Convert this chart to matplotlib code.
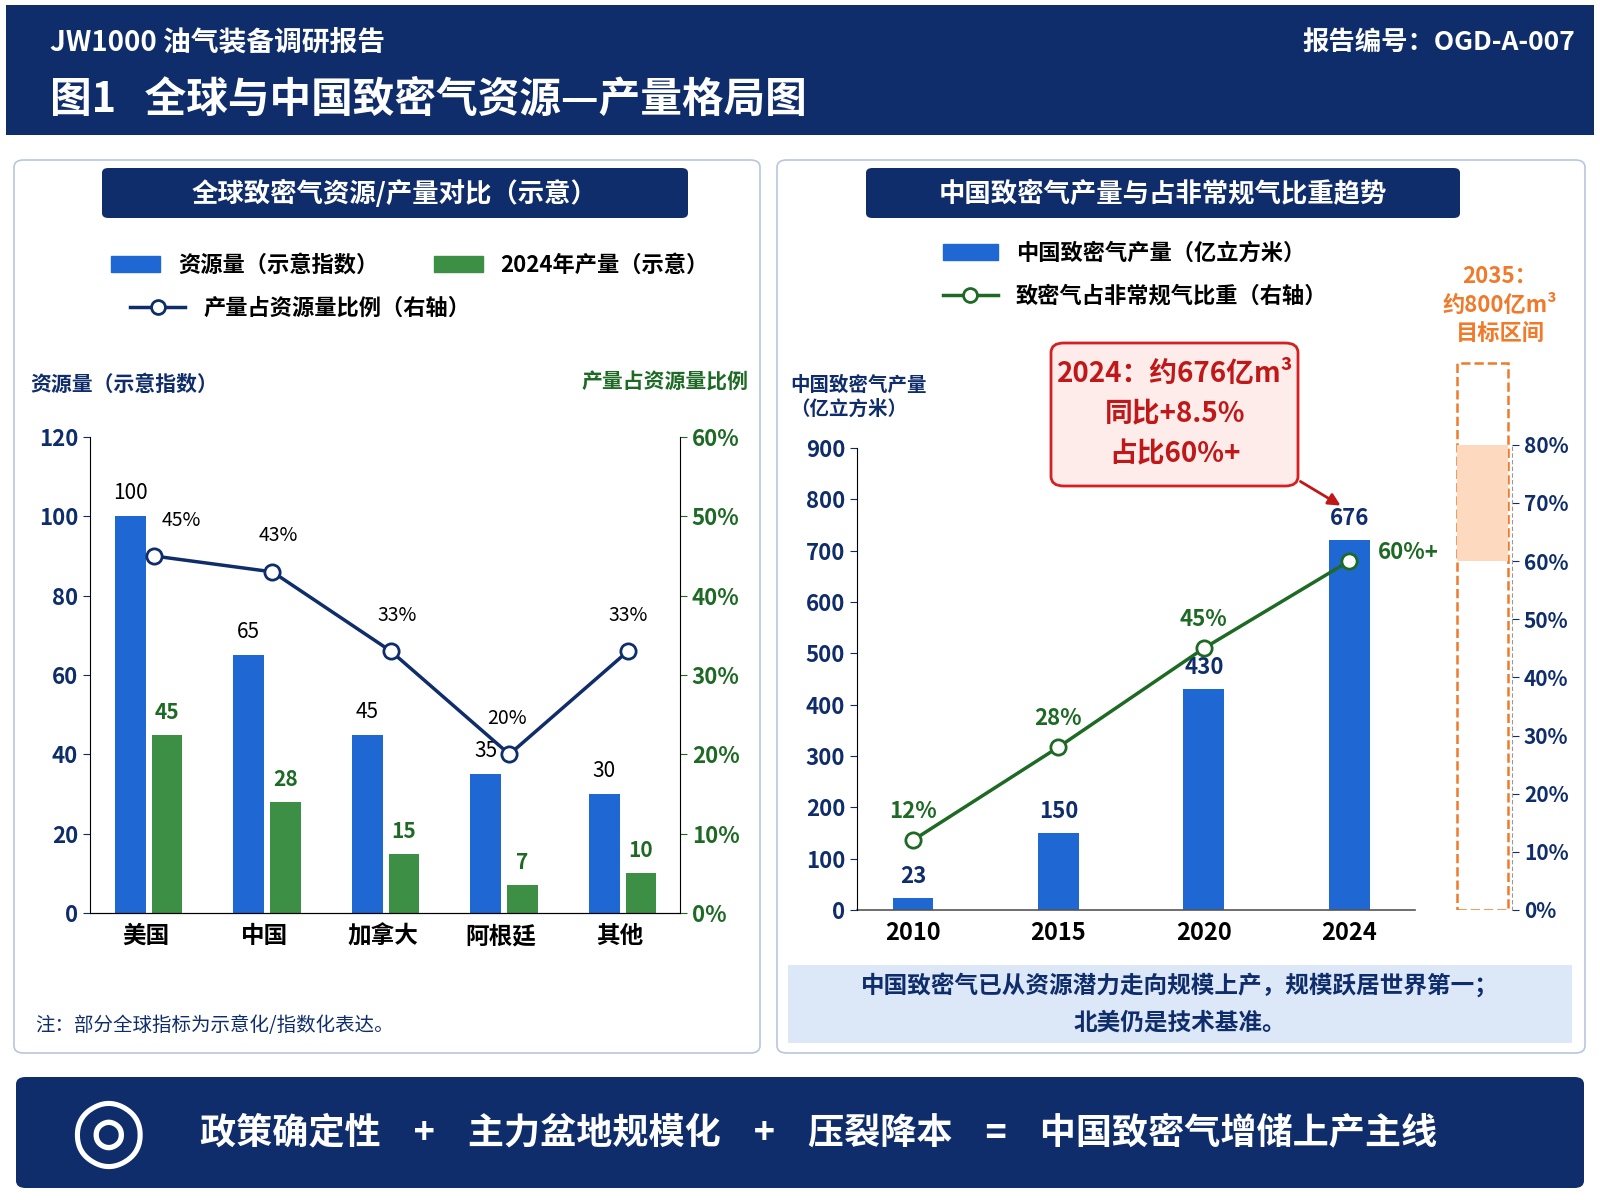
import matplotlib.pyplot as plt
from matplotlib.patches import FancyBboxPatch, Rectangle
from matplotlib.lines import Line2D

plt.rcParams['font.family'] = ['Noto Sans CJK SC', 'DejaVu Sans']
plt.rcParams['font.weight'] = 'bold'

NAVY = '#0f2d6b'
BLUE = '#1f67d2'
GREEN = '#3c8f45'
DKGREEN = '#1e6a25'
ORANGE = '#f07a2a'

# left chart data
countries = ['美国', '中国', '加拿大', '阿根廷', '其他']
resource = [100, 65, 45, 35, 30]
output_2024 = [45, 28, 15, 7, 10]
ratio = [45, 43, 33, 20, 33]

# right chart data
years = ['2010', '2015', '2020', '2024']
cn_output = [23, 150, 430, 720]
cn_output_labels = ['23', '150', '430', '676']
cn_share = [12, 28, 45, 60]
cn_share_labels = ['12%', '28%', '45%', '60%+']

W, H = 1600, 1200
fig = plt.figure(figsize=(16, 12), dpi=100)
fig.patch.set_facecolor('white')


def fx(px):
    return px / W


def fy(py):
    return 1 - py / H


def box(x0, y0, x1, y1, **kw):
    fig.patches.append(FancyBboxPatch((fx(x0), fy(y1)), fx(x1 - x0), (y1 - y0) / H,
                                      transform=fig.transFigure, zorder=-5, **kw))


# header
box(6, 5, 1594, 135, boxstyle='square,pad=0', fc=NAVY, ec='none')
fig.text(fx(50), fy(42), 'JW1000 油气装备调研报告', color='white', fontsize=20, va='center')
fig.text(fx(1575), fy(42), '报告编号：OGD-A-007', color='white', fontsize=19, va='center', ha='right')
fig.text(fx(50), fy(100), '图1   全球与中国致密气资源—产量格局图', color='white', fontsize=30, va='center')

# panels
box(14, 160, 760, 1053, boxstyle='round,pad=0,rounding_size=0.006', fc='white', ec='#b9c6dc', lw=1.2)
box(777, 160, 1585, 1053, boxstyle='round,pad=0,rounding_size=0.006', fc='white', ec='#b9c6dc', lw=1.2)
box(102, 168, 688, 218, boxstyle='round,pad=0,rounding_size=0.004', fc=NAVY, ec='none')
fig.text(fx(395), fy(194), '全球致密气资源/产量对比（示意）', color='white', fontsize=19, ha='center', va='center')
box(866, 168, 1460, 218, boxstyle='round,pad=0,rounding_size=0.004', fc=NAVY, ec='none')
fig.text(fx(1163), fy(194), '中国致密气产量与占非常规气比重趋势', color='white', fontsize=19, ha='center', va='center')

# bottom banner
box(16, 1077, 1584, 1188, boxstyle='round,pad=0,rounding_size=0.006', fc=NAVY, ec='none')
fig.text(fx(200), fy(1133), '政策确定性    +    主力盆地规模化    +    压裂降本    =    中国致密气增储上产主线',
         color='white', fontsize=26, ha='left', va='center')
fig.text(fx(108), fy(1133), '◎', color='white', fontsize=64, ha='center', va='center', family='DejaVu Sans')

# ---------- left chart ----------
ax = fig.add_axes([fx(90), fy(913), fx(680 - 90), (913 - 437) / H])
ax.patch.set_alpha(0)
x = list(range(len(countries)))
ax.bar([i - 0.13 for i in x], resource, width=0.26, color=BLUE)
ax.bar([i + 0.18 for i in x], output_2024, width=0.26, color=GREEN)
for i in x:
    ax.text(i - 0.13, resource[i] + 3, str(resource[i]), ha='center', va='bottom', fontsize=15, fontweight='normal')
    ax.text(i + 0.18, output_2024[i] + 3, str(output_2024[i]), ha='center', va='bottom', fontsize=15, color=DKGREEN)
ax.set_xlim(-0.47, 4.51)
ax.set_ylim(0, 120)
ax.set_yticks(range(0, 121, 20))
ax.set_xticks(x)
ax.set_xticklabels(countries, fontsize=17)
ax.tick_params(axis='y', labelsize=16, colors=NAVY, length=5)
ax.tick_params(axis='x', length=0, pad=8)
for s in ['top', 'right']:
    ax.spines[s].set_visible(False)
ax2 = ax.twinx()
ax2.plot([i + 0.07 for i in x], ratio, color=NAVY, lw=2.5, marker='o', ms=11, mfc='white', mew=2)
label_dx = [0.3, 0.12, 0.12, 0.05, 0.07]
for i in x:
    ax2.text(i + label_dx[i], ratio[i] + 3.2, f'{ratio[i]}%', ha='center', va='bottom', fontsize=14, fontweight='normal')
ax2.set_ylim(0, 60)
ax2.set_yticks(range(0, 61, 10))
ax2.set_yticklabels([f'{v}%' for v in range(0, 61, 10)])
ax2.tick_params(axis='y', labelsize=16, colors=DKGREEN, length=5)
for s in ['top', 'left']:
    ax2.spines[s].set_visible(False)
fig.text(fx(30), fy(384), '资源量（示意指数）', color=NAVY, fontsize=15, va='center')
fig.text(fx(748), fy(382), '产量占资源量比例', color=DKGREEN, fontsize=15, va='center', ha='right')
fig.text(fx(35), fy(1025), '注：部分全球指标为示意化/指数化表达。', color=NAVY, fontsize=14, fontweight='normal', va='center')
fig.legend([Rectangle((0, 0), 1, 1, color=BLUE), Rectangle((0, 0), 1, 1, color=GREEN)],
           ['资源量（示意指数）', '2024年产量（示意）'], loc='center', ncol=2,
           bbox_to_anchor=(fx(410), fy(265)), frameon=False, fontsize=16, handlelength=2.2, columnspacing=2.5)
fig.legend([Line2D([], [], color=NAVY, lw=2.5, marker='o', mfc='white', ms=10, mew=2)],
           ['产量占资源量比例（右轴）'], loc='center', bbox_to_anchor=(fx(300), fy(308)),
           frameon=False, fontsize=16, handlelength=2.5)

# ---------- right chart ----------
bx = fig.add_axes([fx(857), fy(910), fx(1512 - 857), (910 - 350) / H])
bx.patch.set_alpha(0)
xi = list(range(len(years)))
bx.bar(xi, cn_output, width=0.28, color=BLUE)
for i in xi:
    bx.text(i, cn_output[i] + 20, cn_output_labels[i], ha='center', va='bottom', fontsize=16, color=NAVY)
bx.set_xlim(-0.385, 4.12)
bx.set_ylim(0, 1091)
bx.set_yticks(range(0, 901, 100))
bx.set_xticks(xi)
bx.set_xticklabels(years, fontsize=17)
bx.tick_params(axis='y', labelsize=16, colors=NAVY, length=5)
bx.tick_params(axis='x', length=0, pad=8)
for s in ['top', 'right', 'bottom']:
    bx.spines[s].set_visible(False)
bx.spines['left'].set_bounds(0, 900)
bx.plot([-0.385, 3.45], [0, 0], color='#555555', lw=1.2, clip_on=False)
bx2 = bx.twinx()
bx2.plot(xi, cn_share, color=DKGREEN, lw=2.5, marker='o', ms=11, mfc='white', mew=2)
for i in xi[:-1]:
    bx2.text(i, cn_share[i] + 3, cn_share_labels[i], ha='center', va='bottom', fontsize=16, color=DKGREEN)
bx2.text(3.2, cn_share[3] + 1.5, cn_share_labels[3], ha='left', va='center', fontsize=16, color=DKGREEN)
bx2.set_ylim(0, 96.3)
bx2.set_yticks(range(0, 81, 10))
bx2.set_yticklabels([f'{v}%' for v in range(0, 81, 10)])
bx2.tick_params(axis='y', labelsize=15, colors=NAVY, length=5)
for s in ['top', 'left', 'bottom']:
    bx2.spines[s].set_visible(False)
bx2.spines['right'].set_color('#999999')
bx2.spines['right'].set_linestyle((0, (3, 3)))
bx2.spines['right'].set_bounds(0, 80)
bx2.add_patch(Rectangle((3.745, 0), 0.345, 94, fill=False, ec=ORANGE, ls='--', lw=1.8))
bx2.add_patch(Rectangle((3.745, 60), 0.345, 20, fc='#fcd9bf', ec='none'))
fig.text(fx(1500), fy(305), '2035：\n约800亿m³\n目标区间', color=ORANGE, fontsize=16, ha='center', va='center', linespacing=1.3)
fig.text(fx(790), fy(397), '中国致密气产量\n（亿立方米）', color=NAVY, fontsize=14, va='center', linespacing=1.3)
box(1051, 343, 1298, 486, boxstyle='round,pad=0,rounding_size=0.008', fc='#fdecea', ec='#d42020', lw=2)
fig.text(fx(1175), fy(414), '2024：约676亿m³\n同比+8.5%\n占比60%+', color='#c01818', fontsize=20, ha='center', va='center', linespacing=1.55)
bx.annotate('', xy=(fx(1343), fy(507)), xycoords='figure fraction',
            xytext=(fx(1298), fy(480)), textcoords='figure fraction',
            arrowprops=dict(arrowstyle='-|>', color='#c01818', lw=2, mutation_scale=18))
fig.legend([Rectangle((0, 0), 1, 1, color=BLUE),
            Line2D([], [], color=DKGREEN, lw=2.5, marker='o', mfc='white', ms=10, mew=2)],
           ['中国致密气产量（亿立方米）', '致密气占非常规气比重（右轴）'], loc='center',
           bbox_to_anchor=(fx(1135), fy(275)), frameon=False, fontsize=16, handlelength=2.5, labelspacing=0.9)
box(788, 965, 1572, 1043, boxstyle='square,pad=0', fc='#dce8f8', ec='none')
fig.text(fx(1180), fy(1004), '中国致密气已从资源潜力走向规模上产，规模跃居世界第一；\n北美仍是技术基准。',
         color=NAVY, fontsize=17, ha='center', va='center', linespacing=1.6)

fig.savefig('out.png', dpi=100, facecolor='white')
